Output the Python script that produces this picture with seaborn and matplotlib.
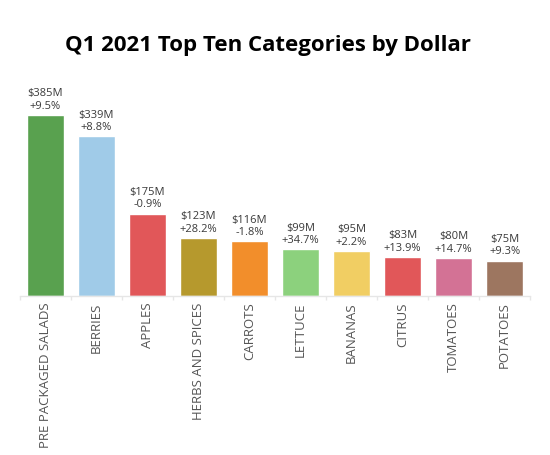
import matplotlib
matplotlib.use("Agg")
import matplotlib.pyplot as plt
import seaborn as sns
import pandas as pd
import numpy as np

categories = ["PRE PACKAGED SALADS", "BERRIES", "APPLES", "HERBS AND SPICES", "CARROTS",
              "LETTUCE", "BANANAS", "CITRUS", "TOMATOES", "POTATOES"]
dollars = [385, 339, 175, 123, 116, 99, 95, 83, 80, 75]
changes = ["+9.5%", "+8.8%", "-0.9%", "+28.2%", "-1.8%", "+34.7%", "+2.2%", "+13.9%", "+14.7%", "+9.3%"]
colors = ["#59A14F", "#A0CBE8", "#E15759", "#B6992D", "#F28E2B",
          "#8CD17D", "#F1CE63", "#E15759", "#D37295", "#9D7660"]

sns.set_theme(style="white")
plt.rcParams['font.family'] = ['Open Sans', 'DejaVu Sans']

df = pd.DataFrame({"cat": categories, "val": dollars})

fig = plt.figure(figsize=(5.5, 4.56), dpi=100)
ax = fig.add_axes([0.036, 0.349, 0.928, 0.495])
sns.barplot(data=df, x="cat", y="val", hue="cat", palette=colors, legend=False,
            width=0.73, ax=ax, saturation=1)

for p, v, c in zip(ax.patches, dollars, changes):
    x = p.get_x() + p.get_width() / 2
    ax.annotate(f"${v}M\n{c}", (x, v), xytext=(0, 3), textcoords="offset points",
                ha="center", va="bottom", fontsize=8, color="#3a3a3a", linespacing=1.2)

ax.set_ylim(0, 480)
ax.set_xlim(-0.5, 9.5)
ax.set_yticks([])
ax.set_xlabel("")
ax.set_ylabel("")
for s in ["top", "right", "left"]:
    ax.spines[s].set_visible(False)
ax.spines["bottom"].set_color("#e6e6e6")
ax.spines["bottom"].set_linewidth(1)
ax.set_xticks(range(len(categories)))
ax.set_xticklabels(categories, rotation=90, fontsize=9.5, color="#555555")
ax.tick_params(axis="x", length=0, pad=4)
ax.set_xticks(np.arange(-0.5, 10, 1), minor=True)
ax.tick_params(axis="x", which="minor", length=3, color="#e6e6e6", bottom=True)

fig.text(0.487, 0.9, "Q1 2021 Top Ten Categories by Dollar", ha="center", va="center",
         fontsize=16, fontweight="bold", color="black")

fig.savefig("out.png", dpi=100)
